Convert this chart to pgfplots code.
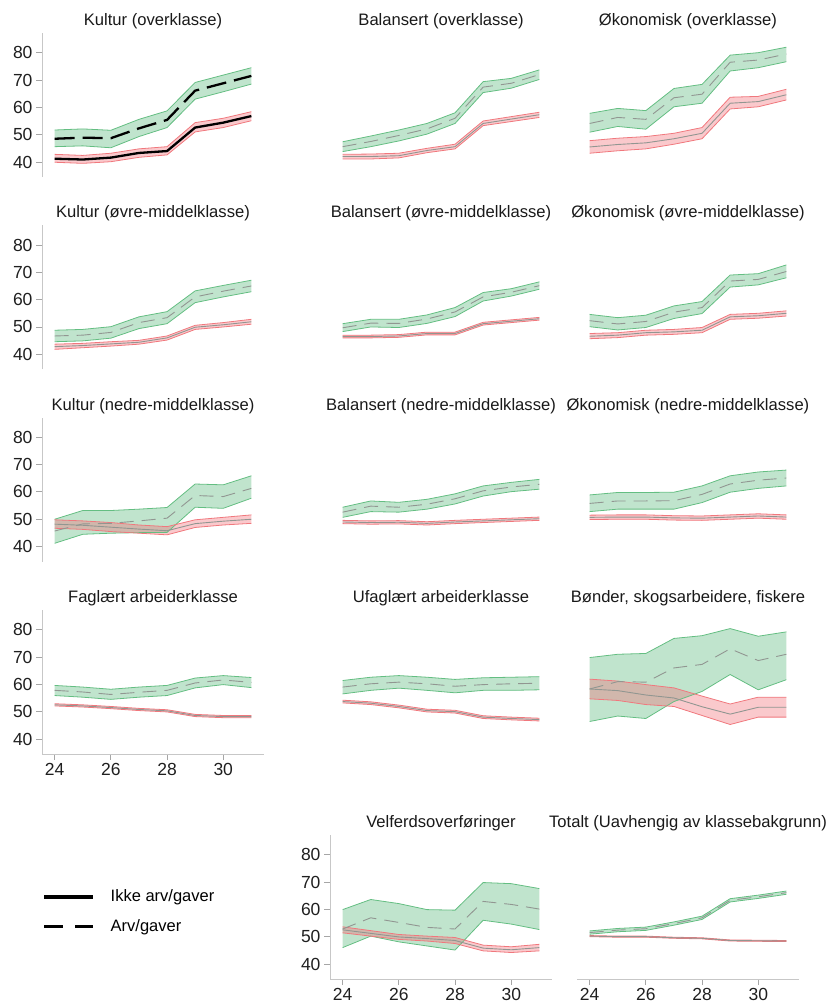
\documentclass[border=0pt]{standalone}
\usepackage{fontspec}
\setmainfont{Liberation Sans}
\usepackage{pgfplots}
\pgfplotsset{compat=1.18}
\usepackage{pgfplotstable}
\usepgfplotslibrary{fillbetween}

\definecolor{gedge}{RGB}{100,190,130}
\definecolor{redge}{RGB}{240,120,125}
\definecolor{gbase}{RGB}{60,170,100}
\definecolor{rbase}{RGB}{240,100,110}
\definecolor{meangray}{RGB}{145,150,145}

% x gm gl gh rm rl rh : mean / lower / upper, green = Arv/gaver, red = Ikke arv/gaver
\pgfplotstableread{
x gm gl gh rm rl rh
24 48.5 45.6 51.7 41.2 39.9 42.8
25 48.9 45.9 52.1 40.9 39.5 42.4
26 48.7 45.2 51.6 41.6 40.1 43.2
27 52.3 49.3 55.6 43.3 41.7 44.8
28 55.4 52.6 58.7 44.0 42.6 45.6
29 66.1 63.0 69.1 52.6 51.0 54.4
30 68.8 65.7 71.8 54.4 52.6 56.0
31 71.5 68.5 74.5 56.8 55.1 58.4
}\kulturover
\pgfplotstableread{
x gm gl gh rm rl rh
24 45.6 43.8 47.4 42.0 41.1 42.8
25 47.5 45.6 49.5 42.0 41.1 42.9
26 49.7 47.7 51.7 42.3 41.5 43.2
27 52.1 50.2 54.1 44.2 43.4 45.0
28 56.0 54.1 58.0 45.6 44.8 46.5
29 67.4 65.4 69.4 54.1 53.3 55.0
30 68.8 67.0 70.6 55.7 54.8 56.6
31 72.0 70.2 73.7 57.3 56.3 58.2
}\balover
\pgfplotstableread{
x gm gl gh rm rl rh
24 54.1 50.9 57.8 45.5 43.2 47.8
25 56.3 53.0 59.6 46.4 44.1 48.7
26 55.6 52.0 58.8 47.0 44.8 49.3
27 63.5 60.2 66.9 48.5 46.5 50.5
28 64.8 61.5 68.4 50.5 48.5 52.6
29 76.5 73.3 79.1 61.5 59.4 63.7
30 77.3 74.5 80.0 62.1 60.2 64.0
31 79.5 76.7 82.0 64.6 62.7 66.6
}\okover
\pgfplotstableread{
x gm gl gh rm rl rh
24 46.7 44.6 48.8 42.8 41.8 43.7
25 47.0 44.9 49.1 43.2 42.4 44.0
26 48.0 45.9 50.1 43.8 43.0 44.6
27 51.6 49.4 53.7 44.4 43.7 45.1
28 53.4 51.2 55.6 46.0 45.2 46.7
29 61.0 58.9 63.2 49.9 49.1 50.6
30 63.1 61.0 65.2 50.8 50.0 51.6
31 65.0 62.9 67.1 51.9 51.0 52.8
}\kulturovre
\pgfplotstableread{
x gm gl gh rm rl rh
24 49.7 48.3 51.2 46.5 46.0 47.0
25 51.4 50.0 52.8 46.5 46.0 47.0
26 51.3 49.8 52.8 46.7 46.2 47.2
27 52.9 51.3 54.4 47.6 47.1 48.1
28 55.5 53.8 57.1 47.6 47.1 48.1
29 61.0 59.5 62.6 51.2 50.7 51.7
30 62.7 61.3 64.0 52.1 51.6 52.6
31 65.1 63.8 66.5 53.0 52.5 53.5
}\balovre
\pgfplotstableread{
x gm gl gh rm rl rh
24 52.3 50.1 54.6 46.6 45.7 47.6
25 51.1 48.9 53.4 47.0 46.1 47.9
26 52.0 49.8 54.3 47.9 47.0 48.8
27 55.4 53.1 57.7 48.2 47.3 49.1
28 57.1 54.9 59.3 48.8 47.9 49.8
29 66.8 64.6 69.0 53.7 52.8 54.6
30 67.4 65.4 69.5 54.1 53.2 55.0
31 70.3 68.0 72.7 55.0 54.0 55.9
}\okovre
\pgfplotstableread{
x gm gl gh rm rl rh
24 45.7 41.2 50.0 48.2 46.7 49.8
25 48.3 44.5 53.2 47.8 46.3 49.4
26 48.5 44.9 53.2 47.1 45.5 48.8
27 49.4 45.1 53.7 46.4 44.9 47.9
28 50.4 45.2 54.3 45.8 44.3 47.3
29 58.7 54.4 62.9 48.4 47.0 49.8
30 58.3 54.0 62.6 49.3 47.9 50.7
31 61.3 57.7 65.9 50.0 48.5 51.6
}\kulturnedre
\pgfplotstableread{
x gm gl gh rm rl rh
24 52.6 50.7 54.4 49.0 48.4 49.6
25 54.8 52.8 56.7 48.8 48.2 49.4
26 54.4 52.6 56.2 48.9 48.3 49.5
27 55.5 53.7 57.3 48.5 47.9 49.1
28 57.5 55.6 59.3 49.0 48.4 49.6
29 60.4 58.5 62.2 49.4 48.8 50.0
30 61.8 60.1 63.5 49.8 49.2 50.4
31 62.8 61.0 64.6 50.2 49.6 50.8
}\balnedre
\pgfplotstableread{
x gm gl gh rm rl rh
24 55.8 52.8 58.9 50.7 49.9 51.5
25 56.7 53.7 59.8 50.8 50.0 51.6
26 56.7 53.7 59.8 50.8 50.0 51.6
27 56.8 53.7 59.9 50.5 49.7 51.3
28 59.1 56.1 62.2 50.4 49.6 51.2
29 62.9 59.9 65.9 50.8 50.0 51.6
30 64.3 61.3 67.3 51.2 50.4 52.0
31 65.1 62.2 68.0 50.8 50.0 51.6
}\oknedre
\pgfplotstableread{
x gm gl gh rm rl rh
24 57.8 55.9 59.6 52.5 52.1 52.9
25 57.2 55.3 59.0 52.1 51.7 52.5
26 56.3 54.5 58.2 51.5 51.1 51.9
27 57.1 55.3 59.0 50.8 50.4 51.2
28 57.8 55.9 59.6 50.3 49.9 50.7
29 60.5 58.7 62.3 48.6 48.2 49.0
30 61.6 59.9 63.2 48.2 47.8 48.6
31 60.7 58.8 62.5 48.2 47.8 48.6
}\faglaert
\pgfplotstableread{
x gm gl gh rm rl rh
24 59.0 56.5 61.4 53.7 53.2 54.2
25 60.2 57.8 62.6 53.1 52.6 53.6
26 60.8 58.6 63.2 51.9 51.4 52.4
27 60.2 57.8 62.6 50.4 49.9 50.9
28 59.3 56.9 61.8 50.0 49.5 50.5
29 59.9 57.8 62.4 48.0 47.5 48.5
30 60.2 57.8 62.6 47.5 47.0 48.0
31 60.4 58.0 62.8 47.1 46.6 47.6
}\ufaglaert
\pgfplotstableread{
x gm gl gh rm rl rh
24 58.3 46.4 69.8 58.3 54.7 61.9
25 61.0 48.4 71.0 57.7 54.1 61.2
26 60.8 47.5 71.3 56.1 52.6 59.9
27 66.0 53.7 76.8 55.0 51.9 58.7
28 67.3 57.4 77.8 51.8 48.6 55.7
29 73.0 63.6 80.4 49.1 45.3 52.8
30 68.7 58.0 77.6 51.6 48.0 55.3
31 71.0 61.7 79.2 51.6 48.0 55.3
}\bonder
\pgfplotstableread{
x gm gl gh rm rl rh
24 52.8 46.0 59.9 52.5 51.4 53.6
25 56.9 50.2 63.6 51.2 50.2 52.2
26 55.2 48.1 62.1 49.9 49.0 50.8
27 53.4 46.6 59.9 49.3 48.4 50.2
28 52.8 45.1 59.7 48.6 47.5 49.7
29 62.9 56.0 69.8 45.8 44.8 46.9
30 61.8 54.6 69.4 45.2 44.2 46.3
31 60.1 52.6 67.6 46.0 44.8 47.2
}\velferd
\pgfplotstableread{
x gm gl gh rm rl rh
24 51.5 50.9 52.1 50.2 50.0 50.4
25 52.4 51.8 53.0 50.0 49.8 50.2
26 52.9 52.3 53.5 50.0 49.8 50.2
27 54.8 54.2 55.4 49.6 49.4 49.8
28 56.9 56.3 57.5 49.4 49.2 49.6
29 63.3 62.7 63.9 48.6 48.4 48.8
30 64.6 64.0 65.2 48.5 48.3 48.7
31 66.1 65.5 66.7 48.4 48.2 48.6
}\totalt

\pgfplotsset{
  panel/.style={
    width=222pt, height=144pt, scale only axis, anchor=north west,
    xmin=23.55, xmax=31.45, ymin=34.5, ymax=87.2,
    axis x line*=bottom, axis y line*=left,
    axis line style={draw=black!22, line width=0.9pt, -},
    tick align=outside, major tick length=6pt,
    tick style={black!35, line width=0.9pt},
    xtick={24,26,28,30}, ytick={40,50,60,70,80},
    ticklabel style={font=\fontsize{17.5}{20}\selectfont, text=black!88},
    /pgf/number format/assume math mode=true,
    title style={font=\fontsize{16.6}{19}\selectfont, text=black!90, at={(0.5,1)}, anchor=base, yshift=1.5pt},
    clip=false,
  },
  noy/.style={hide y axis},
  nox/.style={hide x axis},
  gline/.style={draw=gedge, line width=0.8pt, no marks},
  rline/.style={draw=redge, line width=0.8pt, no marks},
  gfill/.style={fill=gbase, fill opacity=0.32, draw=none},
  rfill/.style={fill=rbase, fill opacity=0.35, draw=none},
  gmean/.style={meangray, line width=0.9pt, no marks, dash pattern=on 14pt off 8pt},
  rmean/.style={meangray, line width=0.9pt, no marks},
  gmeanblack/.style={black, line width=2.3pt, no marks, dash pattern=on 20pt off 8pt},
  rmeanblack/.style={black, line width=2.3pt, no marks},
}

\newcommand{\bands}[3]{%
  \addplot[name path=gh, gline] table[x=x, y=gh] {#1};
  \addplot[name path=gl, gline] table[x=x, y=gl] {#1};
  \addplot[gfill] fill between[of=gh and gl];
  \addplot[name path=rh, rline] table[x=x, y=rh] {#1};
  \addplot[name path=rl, rline] table[x=x, y=rl] {#1};
  \addplot[rfill] fill between[of=rh and rl];
  \addplot[#2] table[x=x, y=gm] {#1};
  \addplot[#3] table[x=x, y=rm] {#1};
}

\begin{document}
\begin{tikzpicture}

% row 1
\begin{axis}[panel, nox, at={(42pt,-33pt)}, title={Kultur (overklasse)}]
\bands{\kulturover}{gmeanblack}{rmeanblack}
\end{axis}
\begin{axis}[panel, nox, noy, at={(330pt,-33pt)}, title={Balansert (overklasse)}]
\bands{\balover}{gmean}{rmean}
\end{axis}
\begin{axis}[panel, nox, noy, at={(577pt,-33pt)}, title={Økonomisk (overklasse)}]
\bands{\okover}{gmean}{rmean}
\end{axis}

% row 2
\begin{axis}[panel, nox, at={(42pt,-225.3pt)}, title={Kultur (øvre-middelklasse)}]
\bands{\kulturovre}{gmean}{rmean}
\end{axis}
\begin{axis}[panel, nox, noy, at={(330pt,-225.3pt)}, title={Balansert (øvre-middelklasse)}]
\bands{\balovre}{gmean}{rmean}
\end{axis}
\begin{axis}[panel, nox, noy, at={(577pt,-225.3pt)}, title={Økonomisk (øvre-middelklasse)}]
\bands{\okovre}{gmean}{rmean}
\end{axis}

% row 3
\begin{axis}[panel, nox, at={(42pt,-417.6pt)}, title={Kultur (nedre-middelklasse)}]
\bands{\kulturnedre}{gmean}{rmean}
\end{axis}
\begin{axis}[panel, nox, noy, at={(330pt,-417.6pt)}, title={Balansert (nedre-middelklasse)}]
\bands{\balnedre}{gmean}{rmean}
\end{axis}
\begin{axis}[panel, nox, noy, at={(577pt,-417.6pt)}, title={Økonomisk (nedre-middelklasse)}]
\bands{\oknedre}{gmean}{rmean}
\end{axis}

% row 4
\begin{axis}[panel, at={(42pt,-610pt)}, title={Faglært arbeiderklasse}]
\bands{\faglaert}{gmean}{rmean}
\end{axis}
\begin{axis}[panel, nox, noy, at={(330pt,-610pt)}, title={Ufaglært arbeiderklasse}]
\bands{\ufaglaert}{gmean}{rmean}
\end{axis}
\begin{axis}[panel, nox, noy, at={(577pt,-610pt)}, title={Bønder, skogsarbeidere, fiskere}]
\bands{\bonder}{gmean}{rmean}
\end{axis}

% row 5 (legend sits in the empty first column)
\begin{axis}[panel, at={(330pt,-835pt)}, title={Velferdsoverføringer},
  legend cell align=left,
  legend style={draw=none, fill=none, at={(-1.288,0.47)}, anchor=west,
    font=\fontsize{16.5}{19}\selectfont, row sep=12pt, inner sep=0pt}]
\addlegendimage{legend image code/.code={%
  \fill[black] (0pt,-1.1pt) rectangle (48pt,1.1pt);}}
\addlegendentry{\hspace{16pt}Ikke arv/gaver}
\addlegendimage{legend image code/.code={%
  \fill[black] (0pt,-1.1pt) rectangle (18pt,1.1pt);
  \fill[black] (31pt,-1.1pt) rectangle (48pt,1.1pt);}}
\addlegendentry{\hspace{16pt}Arv/gaver}
\bands{\velferd}{gmean}{rmean}
\end{axis}
\begin{axis}[panel, noy, at={(577pt,-835pt)}, title={Totalt (Uavhengig av klassebakgrunn)}]
\bands{\totalt}{gmean}{rmean}
\end{axis}

\pgfresetboundingbox
\path[use as bounding box] (0pt,0pt) rectangle (830pt,-1005pt);
\end{tikzpicture}
\end{document}
